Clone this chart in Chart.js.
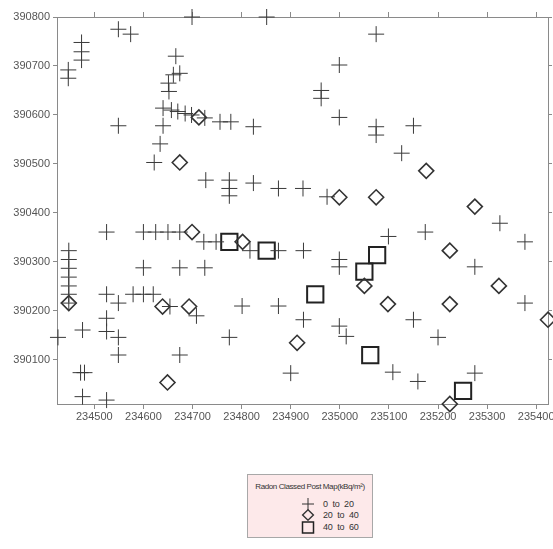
<!DOCTYPE html>
<html>
<head>
<meta charset="utf-8">
<script src="https://cdn.jsdelivr.net/npm/chart.js@4"></script>
<style>
  body { margin: 0; background: #fff; }
  #wrap { position: relative; width: 553px; height: 549px; }
  #legend {
    position: absolute; left: 247px; top: 474px; width: 124px; height: 62px;
    background: #fde9ea; border: 1px solid #a8a8a8;
    font-family: 'Liberation Sans', Arial, sans-serif; color: #333;
  }
  #legend .title { position: absolute; top: 7px; left: 0; width: 100%; text-align: center; font-size: 8px; letter-spacing: -0.4px; }
  #legend .item { position: absolute; left: 53px; font-size: 9px; height: 12px; line-height: 12px; letter-spacing: -0.2px; }
  #legend svg { position: absolute; left: 0; top: 0; }
  #legend span { position: absolute; left: 22px; white-space: pre; }
</style>
</head>
<body>
<div id="wrap">
  <canvas id="chart" width="553" height="549"></canvas>
  <div id="legend">
    <div class="title">Radon Classed Post Map(kBq/m²)</div>
    <div class="item" style="top:23px"><svg width="15" height="12"><path d="M1 6H13M7 0V12" stroke="#333" stroke-width="1"/></svg><span>0  to  20</span></div>
    <div class="item" style="top:34px"><svg width="15" height="12"><path d="M7 0.8L12.4 6L7 11.2L1.6 6Z" fill="none" stroke="#333" stroke-width="1.4"/></svg><span>20  to  40</span></div>
    <div class="item" style="top:45.5px"><svg width="15" height="13"><rect x="1.5" y="1" width="11" height="11" fill="none" stroke="#222" stroke-width="1.5"/></svg><span>40  to  60</span></div>
  </div>
</div>
<script>
// axis ranges and tick labels
const xMin = 234424, xMax = 235424;
const yMin = 390010, yMax = 390800;
const xTicks = [234500, 234600, 234700, 234800, 234900, 235000, 235100, 235200, 235300, 235400];
const yTicks = [390100, 390200, 390300, 390400, 390500, 390600, 390700, 390800];

// 0 to 20 (crosses)
const lowX = [234447, 234447, 234474, 234474, 234474, 234549, 234574, 234666, 234674, 234661,
  234651, 234652, 234640, 234657, 234670, 234685, 234698, 234725, 234756, 234778,
  234824, 234549, 234640, 234634, 234622, 234727, 234775, 234775, 234775, 234824,
  234875, 234925, 234974, 234699, 234851, 235074, 234999, 234962, 234962, 234999,
  235074, 235074, 235150, 235126, 235326, 235377, 235099, 235174, 234525, 234600,
  234625, 234650, 234674, 234723, 234748, 234817, 234875, 234926, 234600, 234674,
  234725, 234525, 234579, 234600, 234620, 234549, 234654, 234708, 234801, 234875,
  234476, 234426, 234525, 234525, 234549, 234549, 234674, 234775, 234472, 234480,
  234476, 234525, 234448, 234448, 234448, 234448, 234448, 234448, 234448, 234999,
  234999, 235275, 235377, 234926, 234999, 235013, 235150, 235200, 234900, 235108,
  235159, 235275];
const lowY = [390692, 390675, 390748, 390729, 390712, 390775, 390765, 390720, 390685, 390682,
  390665, 390648, 390614, 390610, 390607, 390603, 390600, 390594, 390586, 390586,
  390576, 390578, 390578, 390541, 390503, 390467, 390467, 390450, 390435, 390461,
  390450, 390450, 390433, 390800, 390800, 390765, 390702, 390650, 390634, 390595,
  390576, 390559, 390578, 390522, 390379, 390341, 390352, 390361, 390361, 390361,
  390361, 390361, 390361, 390341, 390341, 390323, 390323, 390323, 390288, 390288,
  390288, 390234, 390234, 390234, 390234, 390216, 390209, 390190, 390210, 390210,
  390161, 390146, 390185, 390158, 390146, 390110, 390110, 390146, 390074, 390074,
  390025, 390018, 390323, 390305, 390287, 390269, 390251, 390234, 390216, 390305,
  390290, 390290, 390216, 390182, 390169, 390148, 390182, 390146, 390073, 390075,
  390056, 390073];

// 20 to 40 (diamonds)
const midX = [234713, 234674, 235176, 234999, 235074, 235275, 234699, 234802, 234448, 234639,
  234693, 234649, 235224, 235050, 235324, 235098, 235224, 235424, 234913, 235224];
const midY = [390595, 390503, 390486, 390432, 390432, 390413, 390361, 390341, 390216, 390209,
  390209, 390054, 390323, 390251, 390251, 390214, 390214, 390182, 390135, 390010];

// 40 to 60 (squares)
const highX = [234775, 234851, 235076, 235050, 234950, 235062, 235251];
const highY = [390341, 390323, 390314, 390280, 390234, 390110, 390037];

const pts = (xs, ys) => xs.map((x, i) => ({ x: x, y: ys[i] }));
const setTicks = list => scale => { scale.ticks = list.map(v => ({ value: v })); };
const fixSize = (w, h) => scale => {
  if (w !== null) scale.width = w;
  if (h !== null) scale.height = h;
  scale.paddingLeft = 0;
  scale.paddingRight = 0;
  scale.paddingTop = 0;
  scale.paddingBottom = 0;
};

const axisColor = '#8a8a8a';
const tickFont = { family: "'Liberation Sans', Arial, sans-serif", size: 11 };

Chart.defaults.animation = false;

new Chart(document.getElementById('chart'), {
  type: 'scatter',
  data: {
    datasets: [
      {
        label: '0 to 20', data: pts(lowX, lowY), pointStyle: 'cross',
        pointRadius: 8, borderColor: '#3a3a3a', borderWidth: 1, clip: false
      },
      {
        label: '20 to 40', data: pts(midX, midY), pointStyle: 'rectRot',
        pointRadius: 7.5, borderColor: '#333', backgroundColor: 'rgba(0,0,0,0)', borderWidth: 1.6, clip: false
      },
      {
        label: '40 to 60', data: pts(highX, highY), pointStyle: 'rect',
        pointRadius: 11.5, borderColor: '#222', backgroundColor: 'rgba(0,0,0,0)', borderWidth: 2, clip: false
      }
    ]
  },
  options: {
    responsive: false,
    layout: { autoPadding: false, padding: { top: 12, right: 0, bottom: 115, left: 0 } },
    plugins: { legend: { display: false }, tooltip: { enabled: false } },
    scales: {
      x: {
        type: 'linear', position: 'bottom', min: xMin, max: xMax,
        afterBuildTicks: setTicks(xTicks), afterFit: fixSize(null, 30),
        grid: { drawOnChartArea: false, drawTicks: true, tickLength: 5, color: axisColor },
        border: { display: true, color: axisColor, width: 1 },
        ticks: { color: '#555', font: tickFont, padding: 1, maxRotation: 0, autoSkip: false, callback: v => String(v) }
      },
      x2: {
        type: 'linear', position: 'top', min: xMin, max: xMax,
        afterBuildTicks: setTicks(xTicks), afterFit: fixSize(null, 5),
        grid: { drawOnChartArea: false, drawTicks: true, tickLength: 5, color: axisColor },
        border: { display: true, color: axisColor, width: 1 },
        ticks: { display: false }
      },
      y: {
        type: 'linear', position: 'left', min: yMin, max: yMax,
        afterBuildTicks: setTicks(yTicks), afterFit: fixSize(57, null),
        grid: { drawOnChartArea: false, drawTicks: true, tickLength: 4, color: axisColor },
        border: { display: true, color: axisColor, width: 1 },
        ticks: { color: '#555', font: tickFont, padding: 3, autoSkip: false, callback: v => String(v) }
      },
      y2: {
        type: 'linear', position: 'right', min: yMin, max: yMax,
        afterBuildTicks: setTicks(yTicks), afterFit: fixSize(5, null),
        grid: { drawOnChartArea: false, drawTicks: true, tickLength: 4, color: axisColor },
        border: { display: true, color: axisColor, width: 1 },
        ticks: { display: false }
      }
    }
  }
});
</script>
</body>
</html>
